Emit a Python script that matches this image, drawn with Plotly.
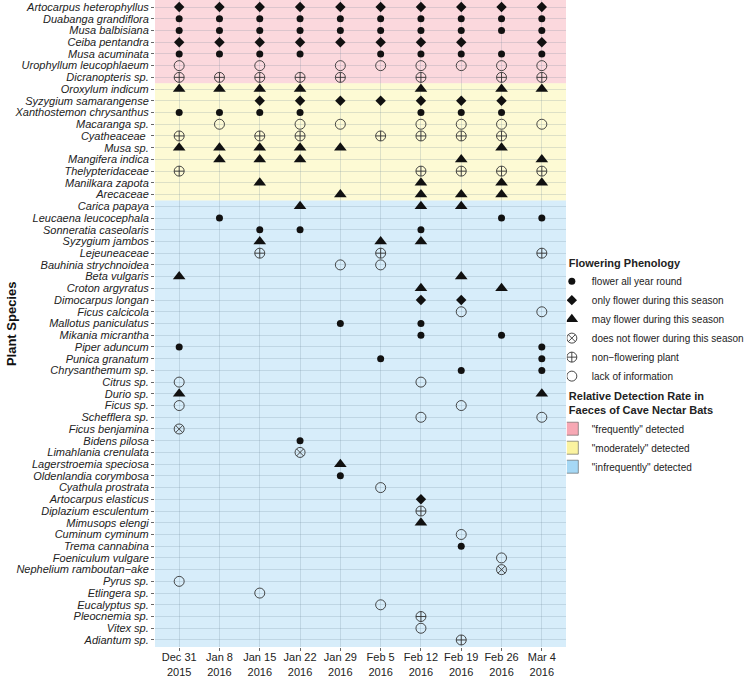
import plotly.graph_objects as go

# survey dates (x categories)
dates = ["Dec 31<br>2015", "Jan 8<br>2016", "Jan 15<br>2016", "Jan 22<br>2016",
         "Jan 29<br>2016", "Feb 5<br>2016", "Feb 12<br>2016", "Feb 19<br>2016",
         "Feb 26<br>2016", "Mar 4<br>2016"]

# phenology code per date: A all year, D only this season, T may flower,
# X does not flower, N non-flowering plant, O lack of information, . not detected
frequent_species = ["Artocarpus heterophyllus", "Duabanga grandiflora", "Musa balbisiana",
                    "Ceiba pentandra", "Musa acuminata", "Urophyllum leucophlaeum",
                    "Dicranopteris sp."]
frequent_codes = ["DDDDDDDDDD", "AAAAAAAAAA", "AAAAAAAAAA", "DDDDDDDD.D",
                  "AAAA.AAAAA", "O.O.OOOOOO", "NNNNN.N.NN"]

moderate_species = ["Oroxylum indicum", "Syzygium samarangense", "Xanthostemon chrysanthus",
                    "Macaranga sp.", "Cyatheaceae ", "Musa sp.", "Mangifera indica",
                    "Thelypteridaceae", "Manilkara zapota", "Arecaceae"]
moderate_codes = ["TTTT..T.TT", "..DDDDDDD.", "AAAA..AAA.", ".O.OO.OOOO",
                  "N.NN.NNNN.", "TTTTT...T.", ".TTT...T.T", "N.....NNNN",
                  "..T...T.TT", "....T.TTT."]

infrequent_species = ["Carica papaya", "Leucaena leucocephala", "Sonneratia caseolaris",
                      "Syzygium jambos", "Lejeuneaceae", "Bauhinia strychnoidea",
                      "Beta vulgaris", "Croton argyratus", "Dimocarpus longan",
                      "Ficus calcicola", "Mallotus paniculatus", "Mikania micrantha",
                      "Piper aduncum", "Punica granatum", "Chrysanthemum sp.",
                      "Citrus sp.", "Durio sp.", "Ficus sp.", "Schefflera sp.",
                      "Ficus benjamina", "Bidens pilosa", "Limahlania crenulata",
                      "Lagerstroemia speciosa", "Oldenlandia corymbosa",
                      "Cyathula prostrata", "Artocarpus elasticus",
                      "Diplazium esculentum", "Mimusops elengi", "Cuminum cyminum",
                      "Trema cannabina", "Foeniculum vulgare",
                      "Nephelium ramboutan\u2212ake", "Pyrus sp.", "Etlingera sp.",
                      "Eucalyptus sp.", "Pleocnemia sp.", "Vitex sp.", "Adiantum sp."]
infrequent_codes = ["...T..TT..", ".A......AA", "..AA..A...", "..T..TT...",
                    "..N..N...N", "....OO....", "T......T..", "......T.T.",
                    "......DD..", ".......O.O", "....A.A...", "......A.A.",
                    "A........A", ".....A...A", ".......A.A", "O.....O...",
                    "T........T", "O......O..", "......O..O", "X.........",
                    "...A......", "...X......", "....T.....", "....A.....",
                    ".....O....", "......D...", "......N...", "......T...",
                    ".......O..", ".......A..", "........O.", "........X.",
                    "O.........", "..O.......", ".....O....", "......N...",
                    "......O...", ".......N.."]

phenology_labels = {
    "A": "flower all year round",
    "D": "only flower during this season",
    "T": "may flower during this season",
    "X": "does not flower during this season",
    "N": "non\u2212flowering plant",
    "O": "lack of information",
}
marker_styles = {
    "A": dict(symbol="circle", size=7, color="#111"),
    "D": dict(symbol="diamond", size=8, color="#111"),
    "T": dict(symbol="triangle-up", size=11, color="#111"),
    "X": dict(symbol="circle-x-open", size=10, color="#333", line=dict(width=0.9)),
    "N": dict(symbol="circle-cross-open", size=10, color="#333", line=dict(width=0.9)),
    "O": dict(symbol="circle-open", size=10, color="#333", line=dict(width=0.9)),
}

groups = [
    ("\"frequently\" detected", frequent_species, frequent_codes, "#F7A8B4"),
    ("\"moderately\" detected", moderate_species, moderate_codes, "#FBF3A0"),
    ("\"infrequently\" detected", infrequent_species, infrequent_codes, "#A6D8F5"),
]

species = frequent_species + moderate_species + infrequent_species
codes = frequent_codes + moderate_codes + infrequent_codes

fig = go.Figure()
for key, label in phenology_labels.items():
    xs, ys = [], []
    for sp, row in zip(species, codes):
        for d, c in zip(dates, row):
            if c == key:
                xs.append(d)
                ys.append(sp)
    fig.add_trace(go.Scatter(x=xs, y=ys, mode="markers", name=label,
                             marker=marker_styles[key], legend="legend"))

# background bands per detection group
shapes = []
start = -0.6
n_total = len(species)
offset = 0
for i, (gname, names, _, color) in enumerate(groups):
    end = offset + len(names) - 0.5 if i < len(groups) - 1 else n_total - 0.4
    shapes.append(dict(type="rect", xref="paper", x0=0, x1=1, yref="y",
                       y0=start, y1=end, fillcolor=color, opacity=0.45,
                       line=dict(width=0), layer="below"))
    start = end
    offset += len(names)
    fig.add_trace(go.Scatter(x=[None], y=[None], mode="markers", name=gname,
                             marker=dict(symbol="square", size=13, color=color,
                                         line=dict(color="#555", width=0.6)),
                             legend="legend2"))

grid = "rgba(110,130,150,0.22)"
fig.update_layout(
    width=750, height=677,
    margin=dict(l=155, r=184, t=0, b=30, autoexpand=False),
    plot_bgcolor="white", paper_bgcolor="white",
    font=dict(family="Liberation Sans, Arial, sans-serif", color="#222"),
    shapes=shapes,
    xaxis=dict(type="category", categoryorder="array", categoryarray=dates,
               range=[-0.6, len(dates) - 0.4], showgrid=True, automargin=False,
               gridcolor=grid, gridwidth=1, zeroline=False,
               ticks="outside", ticklen=3, tickcolor="#666", ticklabelstandoff=-3,
               tickfont=dict(size=11, color="#222")),
    yaxis=dict(type="category", categoryorder="array", categoryarray=species,
               tickmode="array", tickvals=species, ticktext=species,
               range=[n_total - 0.4, -0.6], showgrid=True, automargin=False,
               gridcolor=grid, gridwidth=1, zeroline=False,
               ticks="outside", ticklen=3, tickcolor="#666",
               tickfont=dict(size=11, color="#222", style="italic")),
    legend=dict(title=dict(text="<b>Flowering Phenology</b>", font=dict(size=11)),
                font=dict(size=10), x=1.002, xanchor="left", y=0.61, yanchor="top",
                indentation=-15, bgcolor="rgba(0,0,0,0)", tracegroupgap=0),
    legend2=dict(title=dict(text="<b>Relative Detection Rate in<br>Faeces of Cave Nectar Bats</b>",
                            font=dict(size=11)),
                 font=dict(size=10), x=1.002, xanchor="left", y=0.404, yanchor="top",
                 indentation=-15, bgcolor="rgba(0,0,0,0)"),
    annotations=[dict(text="<b>Plant Species</b>", xref="paper", yref="paper",
                      x=-0.372, y=0.5, showarrow=False, textangle=-90,
                      font=dict(size=13, color="#111"))],
)

fig.write_html("out.html", config={"displayModeBar": False},
               post_script="document.body.style.margin = '0';")
